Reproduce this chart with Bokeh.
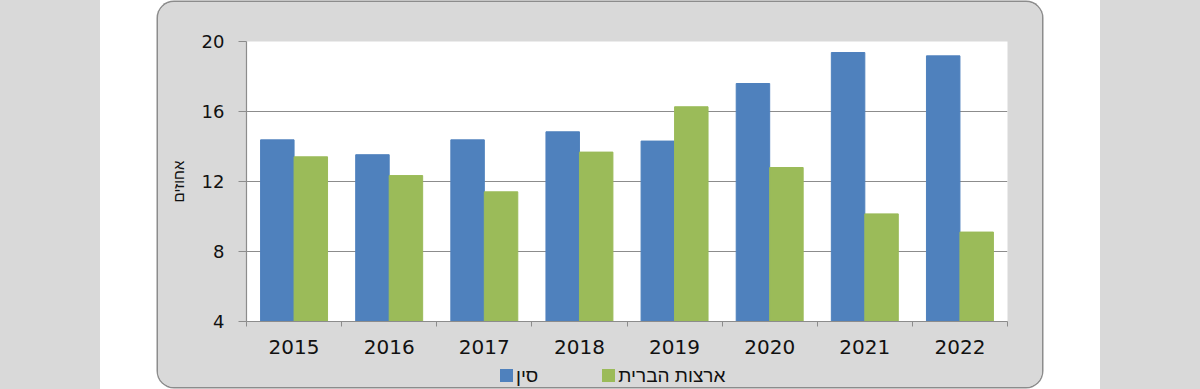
from bokeh.plotting import figure
from bokeh.models import (Range1d, FixedTicker, ColumnDataSource, Div, Spacer)
from bokeh.layouts import row, column
from bokeh.embed import file_html
from bokeh.resources import INLINE

# ---- data ----
years = ["2015", "2016", "2017", "2018", "2019", "2020", "2021", "2022"]
china = [14.38, 13.53, 14.38, 14.84, 14.31, 17.60, 19.37, 19.18]
usa = [13.41, 12.34, 11.41, 13.68, 16.27, 12.80, 10.15, 9.11]
y_ticks = [4, 8, 12, 16, 20]
series_labels = ["סין", "ארצות הברית"]
y_label = "אחוזים"

BLUE = "#4F81BD"
GREEN = "#9BBB59"
series_colors = [BLUE, GREEN]
GRAY_BG = "#d9d9d9"
LINE_GRAY = "#8c8c8c"
FONT = "DejaVu Sans"
HFONT = "Liberation Sans"

PAGE_W, PAGE_H = 1200, 389
STRIP_W, GAP_W = 100, 58
BOX_W, BOX_H = PAGE_W - 2 * (STRIP_W + GAP_W), 385
BL, BR, BT, BB = 88, 35, 39, 42
FRAME_H = 280
H = BT + FRAME_H + BB
LEG_H = BOX_H - H
Y0, Y1 = y_ticks[0], y_ticks[-1]
N = len(years)
idx = list(range(N))

p = figure(width=BOX_W, height=H, x_range=Range1d(-0.5, N - 0.5), y_range=Range1d(Y0, Y1),
           output_backend="svg", toolbar_location=None,
           min_border_left=BL, min_border_right=BR, min_border_top=BT, min_border_bottom=BB)
p.outline_line_color = None
p.border_fill_color = GRAY_BG
p.background_fill_color = "white"

OFF, BW = 0.176, 0.352
source = ColumnDataSource(dict(idx=idx, years=years, china=china, usa=usa,
                               xc=[i - OFF for i in idx], xu=[i + OFF for i in idx]))
r1 = p.vbar(x="xc", top="china", width=BW, source=source, fill_color=BLUE, line_color=BLUE)
r2 = p.vbar(x="xu", top="usa", width=BW, source=source, fill_color=GREEN, line_color=GREEN)

# grid
p.ygrid.ticker = FixedTicker(ticks=y_ticks)
p.ygrid.grid_line_color = LINE_GRAY
p.ygrid.grid_line_width = 1.2
p.xgrid.visible = False

# y axis
ya = p.yaxis[0]
ya.ticker = FixedTicker(ticks=y_ticks)
ya.axis_line_color = LINE_GRAY
ya.axis_line_width = 1.2
ya.major_tick_line_color = LINE_GRAY
ya.major_tick_out = 8
ya.major_tick_in = 0
ya.minor_tick_line_color = None
ya.major_label_text_font = FONT
ya.major_label_text_font_size = "18px"
ya.major_label_text_color = "#111111"
ya.major_label_standoff = 14
ya.axis_label = y_label
ya.axis_label_text_font = HFONT
ya.axis_label_text_font_size = "15px"
ya.axis_label_text_font_style = "normal"
ya.axis_label_text_color = "#111111"
ya.axis_label_standoff = 12

# x axis: labels at category centres, minor ticks at category boundaries
xa = p.xaxis[0]
xa.ticker = FixedTicker(ticks=idx, minor_ticks=[i - 0.5 for i in range(N + 1)])
xa.major_label_overrides = {i: y for i, y in zip(idx, years)}
xa.axis_line_color = LINE_GRAY
xa.axis_line_width = 1.2
xa.major_tick_line_color = None
xa.major_tick_out = 0
xa.major_tick_in = 0
xa.minor_tick_line_color = LINE_GRAY
xa.minor_tick_out = 5
xa.minor_tick_in = 0
xa.major_label_text_font = FONT
xa.major_label_text_font_size = "20px"
xa.major_label_text_color = "#111111"
xa.major_label_standoff = 13

# legend (HTML, below the chart inside the box)
LEG_START = 500 - (STRIP_W + GAP_W)
items_html = []
for k, (lab, col) in enumerate(zip(series_labels, series_colors)):
    gap = "margin-left:64px;" if k > 0 else ""
    items_html.append(
        f'<span style="display:inline-block;width:13px;height:13px;background:{col};'
        f'margin-right:3px;{gap}"></span><span dir="rtl">{lab}</span>')
legend_html = (f'<div dir="ltr" style="display:flex;align-items:center;height:{LEG_H}px;'
               f'padding-left:{LEG_START}px;font-family:\'{HFONT}\';font-size:19px;'
               f'color:#111111;line-height:1;white-space:nowrap;">' + "".join(items_html) + "</div>")
legend_div = Div(text=legend_html, width=BOX_W, height=LEG_H, margin=0,
                 styles={"background-color": GRAY_BG})

box = column(p, legend_div, spacing=0,
             styles={"background-color": GRAY_BG, "border-radius": "16px", "overflow": "hidden",
                     "box-shadow": "0 0 0 1.5px " + LINE_GRAY})

left_strip = Div(text="", width=STRIP_W, height=PAGE_H, margin=0,
                 styles={"background-color": GRAY_BG})
right_strip = Div(text="", width=STRIP_W, height=PAGE_H, margin=0,
                  styles={"background-color": GRAY_BG})
layout = row(left_strip, Spacer(width=GAP_W, height=PAGE_H),
             column(Spacer(width=BOX_W, height=2), box),
             Spacer(width=GAP_W, height=PAGE_H), right_strip)

open("out.html", "w").write(file_html(layout, INLINE))
